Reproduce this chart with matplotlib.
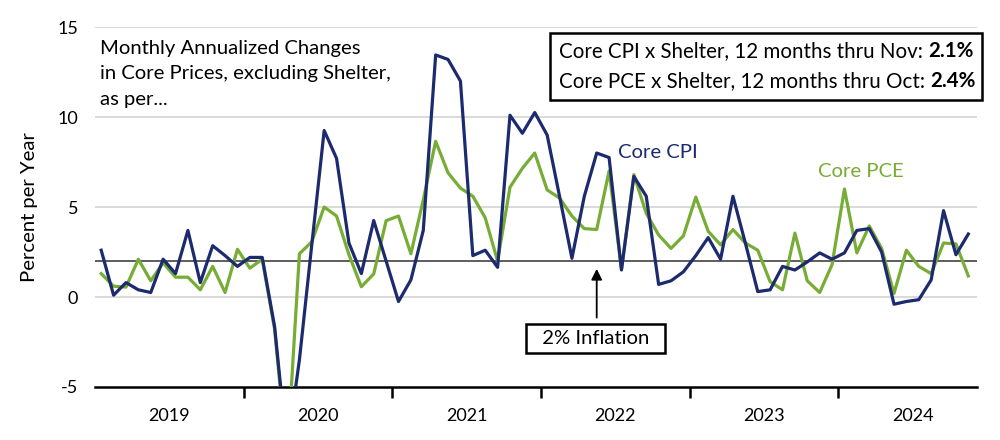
import numpy as np
import pandas as pd
import matplotlib
matplotlib.use("Agg")
import matplotlib.pyplot as plt
from matplotlib.patches import Rectangle
from matplotlib.text import Annotation

plt.rcParams['font.family'] = ['Lato', 'DejaVu Sans']

# monthly annualized changes, core prices ex shelter (percent per year)
months = pd.date_range('2019-01-01', periods=71, freq='MS')
core_cpi = [2.6, 0.1, 0.8, 0.4, 0.25, 2.1, 1.3, 3.7, 0.8, 2.85, 2.3, 1.7,
            2.2, 2.2, -1.65, -8.5, -3.5, 2.9, 9.25, 7.7, 3.0, 1.3, 4.25, 2.0,
            -0.25, 0.95, 3.7, 13.45, 13.2, 12.0, 2.3, 2.6, 1.65, 10.1, 9.1, 10.25,
            9.0, 5.6, 2.15, 5.6, 8.0, 7.75, 1.5, 6.7, 5.6, 0.7, 0.9, 1.4,
            2.3, 3.3, 2.1, 5.6, 3.0, 0.3, 0.4, 1.7, 1.5, 1.95, 2.45, 2.1,
            2.45, 3.7, 3.8, 2.5, -0.4, -0.25, -0.15, 0.95, 4.8, 2.35, 3.5]
core_pce = [1.3, 0.6, 0.55, 2.1, 0.9, 1.9, 1.1, 1.1, 0.4, 1.7, 0.25, 2.65,
            1.6, 2.1, -1.8, -9.0, 2.4, 3.07, 5.0, 4.5, 2.35, 0.57, 1.28, 4.24,
            4.5, 2.4, 5.4, 8.65, 6.9, 6.05, 5.6, 4.4, 2.0, 6.1, 7.15, 8.0,
            5.95, 5.5, 4.5, 3.8, 3.75, 7.0, 1.55, 6.8, 4.65, 3.45, 2.7, 3.4,
            5.55, 3.65, 2.9, 3.75, 3.0, 2.6, 0.85, 0.4, 3.55, 0.9, 0.25, 1.8,
            6.0, 2.45, 3.95, 2.7, 0.2, 2.6, 1.7, 1.3, 3.0, 2.95, 1.17]
years = ['2019', '2020', '2021', '2022', '2023', '2024']
yticks = [-5, 0, 5, 10, 15]
target = 2

navy = '#1c2a6e'
green = '#77ac35'
fs = 14.6
fs_box = 14.8

fig = plt.figure(figsize=(10, 4.4), dpi=100)
ax = fig.add_axes([0.095, 0.1205, 0.882, 0.818])

x = np.arange(len(months))
for v in yticks[1:]:
    ax.axhline(v, color='#d3d3d3', lw=1.2, zorder=1)
ax.axhline(target, color='#505050', lw=1.3, zorder=2)

ax.plot(x, core_pce, color=green, lw=2.3, zorder=3)
ax.plot(x, core_cpi, color=navy, lw=2.3, zorder=4)

ax.set_xlim(-0.5, 70.7)
ax.set_ylim(-5, 15)

for s in ['top', 'right', 'left']:
    ax.spines[s].set_visible(False)
ax.spines['bottom'].set_linewidth(1.8)

ax.set_yticks(yticks)
ax.set_yticklabels([str(v) for v in yticks], fontsize=13)
ax.tick_params(axis='y', length=0, pad=12)

bounds = [12 * k - 0.5 for k in range(1, len(years))]
ax.set_xticks(bounds)
ax.set_xticklabels([])
ax.tick_params(axis='x', which='major', length=8, width=1.8, direction='out')
ax.set_xticks([12 * k + 5.5 for k in range(len(years))], minor=True)
ax.set_xticklabels(years, minor=True, fontsize=13)
ax.tick_params(axis='x', which='minor', length=0, pad=15)

ax.set_ylabel('Percent per Year', fontsize=fs, labelpad=14)

ax.text(-0.1, 14.28, 'Monthly Annualized Changes\nin Core Prices, excluding Shelter,\nas per...',
        fontsize=fs, va='top', ha='left', linespacing=1.6, zorder=5)

ax.text(41.7, 8.05, 'Core CPI', color=navy, fontsize=fs, va='center', ha='left')
ax.text(57.9, 6.95, 'Core PCE', color=green, fontsize=fs, va='center', ha='left')

# 2% inflation callout
ax.annotate('', xy=(40.0, 1.72), xytext=(40.0, -1.3),
            arrowprops=dict(arrowstyle='-|>', color='black', lw=1.3, mutation_scale=16))
ax.text(39.9, -2.3, '  2% Inflation  ', fontsize=fs, ha='center', va='center',
        bbox=dict(boxstyle='square,pad=0.3', fc='white', ec='black', lw=1.8), zorder=6)

# summary box
fig.add_artist(Rectangle((0.550, 1 - 100 / 440), 0.432, 67 / 440, transform=fig.transFigure,
                         fc='white', ec='black', lw=1.8, zorder=5))
t1 = fig.text(0.559, 1 - 51 / 440, 'Core CPI x Shelter, 12 months thru Nov: ', fontsize=fs_box,
              va='center', ha='left', zorder=6)
fig.add_artist(Annotation('2.1%', xy=(1, 0), xycoords=t1, va='bottom', ha='left',
                          fontsize=fs_box, fontweight='bold', zorder=7))
t2 = fig.text(0.559, 1 - 81 / 440, 'Core PCE x Shelter, 12 months thru Oct: ', fontsize=fs_box,
              va='center', ha='left', zorder=6)
fig.add_artist(Annotation('2.4%', xy=(1, 0), xycoords=t2, va='bottom', ha='left',
                          fontsize=fs_box, fontweight='bold', zorder=7))

fig.savefig('out.png', dpi=100)
